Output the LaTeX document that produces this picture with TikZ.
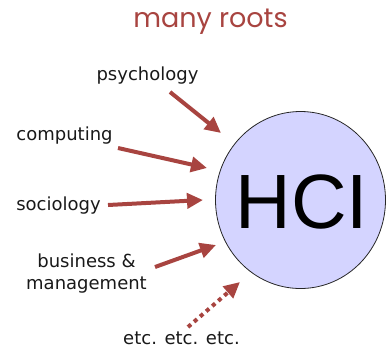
\documentclass[tikz,border=0pt]{standalone}
\usepackage{fontspec}
\setsansfont{DejaVu Sans}
\newfontfamily\hcifont{Liberation Sans}
\newfontfamily\titlefont{Poppins}
\usetikzlibrary{calc}
\usetikzlibrary{arrows.meta,shapes.geometric}
\definecolor{rootred}{RGB}{168,68,64}
\definecolor{hciblue}{RGB}{212,212,255}

\begin{document}
\begin{tikzpicture}[x=1pt, y=-1pt, field/.style={font=\sffamily\fontsize{18}{22}\selectfont, text=black!90, inner sep=0pt, align=center}, root/.style={line width=4pt, rootred, -{Triangle[length=16pt, width=15pt]}}, moreroot/.style={root, dash pattern=on 4pt off 4pt}]
			\useasboundingbox (0,0) rectangle (387,349);

			\node[ellipse, draw=black!85, line width=0.8pt, fill=hciblue, minimum width=170, minimum height=177, inner sep=0pt] (hci) at (300.5,200) {};
			\node[font=\hcifont\fontsize{77}{77}\selectfont, inner sep=0pt] (hcitext) at ($(hci) + (1.5, 2)$) {HCI};

			\node[font=\titlefont\fontsize{27}{27}\selectfont, text=rootred] (title) at ($(hci) + (-90, -178)$) {many roots};

			\node[field] (psy) at ($(hci) + (-153, -124)$) {psychology};
			\node[field] (comp) at ($(hci) + (-236, -64)$) {computing};
			\node[field] (soc) at ($(hci) + (-242, 6)$) {sociology};
			\node[field] (bus) at ($(hci) + (-214, 74)$) {business \&\\management};
			\node[field] (etc) at ($(hci) + (-119, 138)$) {etc. etc. etc.};

			% arrow ends
			\coordinate (psy0) at ($(hci) + (-130.5, -108)$);
			\coordinate (psy1) at ($(hci) + (-79.5, -67)$);
			\coordinate (comp0) at ($(hci) + (-182.5, -52)$);
			\coordinate (comp1) at ($(hci) + (-93.5, -32)$);
			\coordinate (soc0) at ($(hci) + (-192.5, 5)$);
			\coordinate (soc1) at ($(hci) + (-97.5, 0)$);
			\coordinate (bus0) at ($(hci) + (-145.5, 67)$);
			\coordinate (bus1) at ($(hci) + (-84.5, 45)$);
			\coordinate (etc0) at ($(hci) + (-112.5, 127)$);
			\coordinate (etc1) at ($(hci) + (-60.5, 82)$);

			\draw[root] (psy0) -- (psy1);
			\draw[root] (comp0) -- (comp1);
			\draw[root] (soc0) -- (soc1);
			\draw[root] (bus0) -- (bus1);
			\draw[moreroot] (etc0) -- (etc1);

		\end{tikzpicture}
\end{document}
